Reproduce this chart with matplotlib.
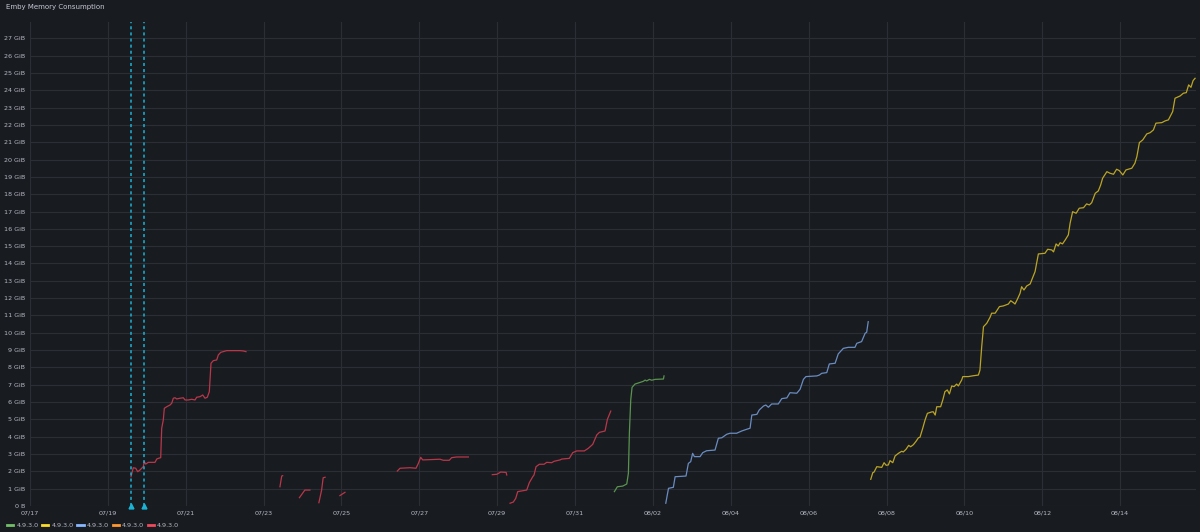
import matplotlib
matplotlib.use("Agg")
import matplotlib.pyplot as plt
import matplotlib.dates as mdates
from matplotlib.lines import Line2D
import numpy as np
import pandas as pd

# x values are days since 07/17 00:00, y values are GiB
start = pd.Timestamp("2023-07-17")

red_segments = [
    ([2.594, 2.653, 2.715, 2.767, 2.826, 2.869, 2.910, 2.936, 2.972, 3.039, 3.211, 3.255,
      3.296, 3.357, 3.383, 3.424, 3.450, 3.511, 3.596, 3.640, 3.681, 3.725, 3.768, 3.853,
      3.938, 3.982, 4.066, 4.154, 4.238, 4.282, 4.367, 4.436, 4.495, 4.554, 4.606, 4.649,
      4.708, 4.796, 4.837, 4.899, 5.053, 5.394, 5.479, 5.548],
     [1.69, 2.21, 2.18, 1.98, 2.08, 2.18, 2.27, 2.56, 2.42, 2.52, 2.52, 2.71,
      2.75, 2.79, 4.49, 4.97, 5.64, 5.73, 5.83, 5.93, 6.22, 6.25, 6.18, 6.22,
      6.25, 6.12, 6.12, 6.16, 6.12, 6.28, 6.31, 6.41, 6.22, 6.28, 6.60, 8.24,
      8.39, 8.43, 8.72, 8.87, 8.97, 8.97, 8.95, 8.91]),
    ([6.42, 6.465, 6.49], [1.11, 1.73, 1.75]),
    ([6.92, 7.06, 7.19], [0.48, 0.92, 0.92]),
    ([7.42, 7.49, 7.53, 7.58], [0.19, 0.92, 1.63, 1.66]),
    ([7.96, 8.09], [0.60, 0.79]),
    ([9.435, 9.505, 9.76, 9.915, 9.975, 10.035, 10.087, 10.53, 10.617, 10.77, 10.83, 10.96, 11.26],
     [2.02, 2.18, 2.21, 2.18, 2.46, 2.81, 2.66, 2.70, 2.64, 2.64, 2.79, 2.83, 2.83]),
    ([11.875, 11.99, 12.09, 12.23, 12.245], [1.81, 1.83, 1.96, 1.94, 1.79]),
    ([12.33, 12.415, 12.476, 12.527, 12.758, 12.826, 12.913, 12.946, 12.998, 13.083, 13.203,
      13.272, 13.40, 13.46, 13.615, 13.658, 13.853, 13.94, 14.043, 14.238, 14.34, 14.454,
      14.557, 14.624, 14.77, 14.83, 14.917],
     [0.16, 0.23, 0.44, 0.83, 0.92, 1.35, 1.69, 1.79, 2.27, 2.41, 2.41,
      2.52, 2.50, 2.58, 2.66, 2.71, 2.75, 3.08, 3.18, 3.18, 3.33, 3.56,
      4.10, 4.25, 4.33, 5.00, 5.48]),
]

green_x = [15.01, 15.086, 15.225, 15.328, 15.37, 15.395, 15.43, 15.464, 15.54, 15.65,
           15.755, 15.80, 15.84, 15.91, 15.97, 16.055, 16.27, 16.285]
green_y = [0.83, 1.11, 1.15, 1.27, 1.89, 4.20, 6.12, 6.85, 7.04, 7.12,
           7.20, 7.27, 7.22, 7.31, 7.26, 7.31, 7.33, 7.51]

blue_x = [16.33, 16.40, 16.525, 16.57, 16.85, 16.91, 16.97, 17.02, 17.065, 17.21, 17.28,
          17.38, 17.595, 17.68, 17.77, 17.895, 17.98, 18.15, 18.28, 18.41, 18.495, 18.54,
          18.67, 18.73, 18.84, 18.90, 18.965, 19.05, 19.22, 19.31, 19.44, 19.52, 19.695,
          19.78, 19.865, 19.93, 20.21, 20.275, 20.335, 20.465, 20.53, 20.68, 20.76, 20.89,
          21.02, 21.19, 21.235, 21.36, 21.45, 21.49, 21.53]
blue_y = [0.16, 1.02, 1.08, 1.69, 1.73, 2.46, 2.56, 3.04, 2.85, 2.85, 3.08,
          3.19, 3.23, 3.91, 3.94, 4.14, 4.20, 4.20, 4.33, 4.43, 4.49, 5.25,
          5.29, 5.54, 5.77, 5.83, 5.70, 5.89, 5.89, 6.20, 6.24, 6.54, 6.51,
          6.74, 7.31, 7.47, 7.51, 7.56, 7.66, 7.70, 8.20, 8.24, 8.78, 9.10,
          9.16, 9.16, 9.39, 9.49, 9.97, 10.03, 10.64]

yellow_x = [21.595, 21.646, 21.68, 21.75, 21.877, 21.937, 21.99, 22.047, 22.09, 22.16, 22.22,
            22.305, 22.39, 22.43, 22.50, 22.57, 22.62, 22.69, 22.76, 22.82, 22.86, 22.93,
            22.99, 23.05, 23.16, 23.20, 23.25, 23.29, 23.39, 23.445, 23.50, 23.56, 23.615,
            23.675, 23.735, 23.80, 23.845, 23.93, 23.96, 24.10, 24.23, 24.36, 24.40, 24.445,
            24.49, 24.575, 24.66, 24.70, 24.79, 24.90, 25.00, 25.13, 25.19, 25.26, 25.30,
            25.36, 25.43, 25.47, 25.53, 25.60, 25.69, 25.73, 25.815, 25.90, 26.07, 26.14,
            26.245, 26.29, 26.355, 26.41, 26.46, 26.52, 26.59, 26.67, 26.715, 26.78, 26.87,
            26.95, 27.06, 27.14, 27.21, 27.27, 27.36, 27.44, 27.50, 27.55, 27.66, 27.74,
            27.83, 27.91, 27.98, 28.07, 28.15, 28.30, 28.38, 28.43, 28.495, 28.58, 28.685,
            28.77, 28.855, 28.92, 29.07, 29.155, 29.24, 29.35, 29.41, 29.54, 29.625, 29.70,
            29.76, 29.82, 29.875, 29.925]
yellow_y = [1.54, 1.92, 1.96, 2.27, 2.23, 2.50, 2.35, 2.37, 2.62, 2.50, 2.89,
            3.04, 3.16, 3.12, 3.27, 3.50, 3.42, 3.54, 3.74, 3.94, 3.97, 4.49,
            4.97, 5.35, 5.43, 5.44, 5.25, 5.73, 5.73, 6.12, 6.60, 6.70, 6.47,
            6.93, 6.89, 7.04, 6.93, 7.27, 7.47, 7.47, 7.52, 7.56, 7.85, 9.20,
            10.35, 10.55, 10.90, 11.13, 11.13, 11.51, 11.55, 11.66, 11.85, 11.74, 11.66,
            11.93, 12.28, 12.66, 12.47, 12.70, 12.82, 13.05, 13.53, 14.55, 14.59, 14.82,
            14.78, 14.67, 15.13, 15.01, 15.20, 15.13, 15.36, 15.65, 16.32, 16.99, 16.90,
            17.19, 17.22, 17.44, 17.38, 17.51, 18.05, 18.19, 18.53, 18.92, 19.30, 19.21,
            19.15, 19.44, 19.36, 19.11, 19.40, 19.50, 19.79, 20.17, 20.98, 21.13, 21.48,
            21.55, 21.71, 22.10, 22.13, 22.23, 22.29, 22.77, 23.54, 23.67, 23.83, 23.86,
            24.31, 24.17, 24.56, 24.69]

annotation_days = [2.587, 2.936]
legend_labels = ["4.9.3.0", "4.9.3.0", "4.9.3.0", "4.9.3.0", "4.9.3.0"]
legend_colors = ["#73BF69", "#FADE2A", "#8AB8FF", "#FF9830", "#F2495C"]
line_colors = ["#5a9350", "#bba526", "#6a8cc2", "#d07a2a", "#b9374a"]

y_ticks = list(range(0, 28))
x_tick_days = list(range(0, 29, 2))


def to_dates(days):
    return [start + pd.Timedelta(days=d) for d in days]


bg = "#181b1f"
text_col = "#b8b8c6"
grid_col = "#2b2e34"

fig = plt.figure(figsize=(12, 5.32), dpi=100, facecolor=bg)
ax = fig.add_axes([0.025, 1 - 506 / 532, 0.9717, (506 - 22) / 532])
ax.set_facecolor(bg)

ax.plot(to_dates(green_x), green_y, color=line_colors[0], lw=0.9)
ax.plot(to_dates(yellow_x), yellow_y, color=line_colors[1], lw=0.9)
ax.plot(to_dates(blue_x), blue_y, color=line_colors[2], lw=0.9)
for xs, ys in red_segments:
    ax.plot(to_dates(xs), ys, color=line_colors[4], lw=0.9)

for d in annotation_days:
    t = start + pd.Timedelta(days=d)
    ax.axvline(t, color="#1ab3d6", lw=1.1, ls=(0, (2, 2)), zorder=5)
    ax.plot([t], [0], marker="^", ms=3.5, color="#1ab3d6", clip_on=False, zorder=6)

ax.set_xlim(start, start + pd.Timedelta(days=29.95))
ax.set_ylim(0, 27.94)

ax.set_yticks(y_ticks)
ax.set_yticklabels(["0 B"] + [f"{v} GiB" for v in y_ticks[1:]])
ax.set_xticks(to_dates(x_tick_days))
ax.xaxis.set_major_formatter(mdates.DateFormatter("%m/%d"))

ax.tick_params(axis="both", length=0, colors=text_col, labelsize=4.6)
ax.tick_params(axis="y", pad=3.5)
ax.tick_params(axis="x", pad=3)
ax.grid(True, color=grid_col, lw=0.8)
for s in ax.spines.values():
    s.set_visible(False)

fig.text(6 / 1200, 1 - 7 / 532, "Emby Memory Consumption", color="#c8c8d6",
         fontsize=5.0, fontweight="medium", va="center", ha="left")

handles = [Line2D([], [], color=c, lw=2) for c in legend_colors]
fig.legend(handles, legend_labels, loc="center left", bbox_to_anchor=(7 / 1200, 1 - 525 / 532),
           ncol=5, frameon=False, fontsize=4.6, labelcolor=text_col,
           handlelength=0.95, handletextpad=0.5, columnspacing=0.6,
           borderpad=0, borderaxespad=0)

fig.savefig("out.png", dpi=100, facecolor=bg)
